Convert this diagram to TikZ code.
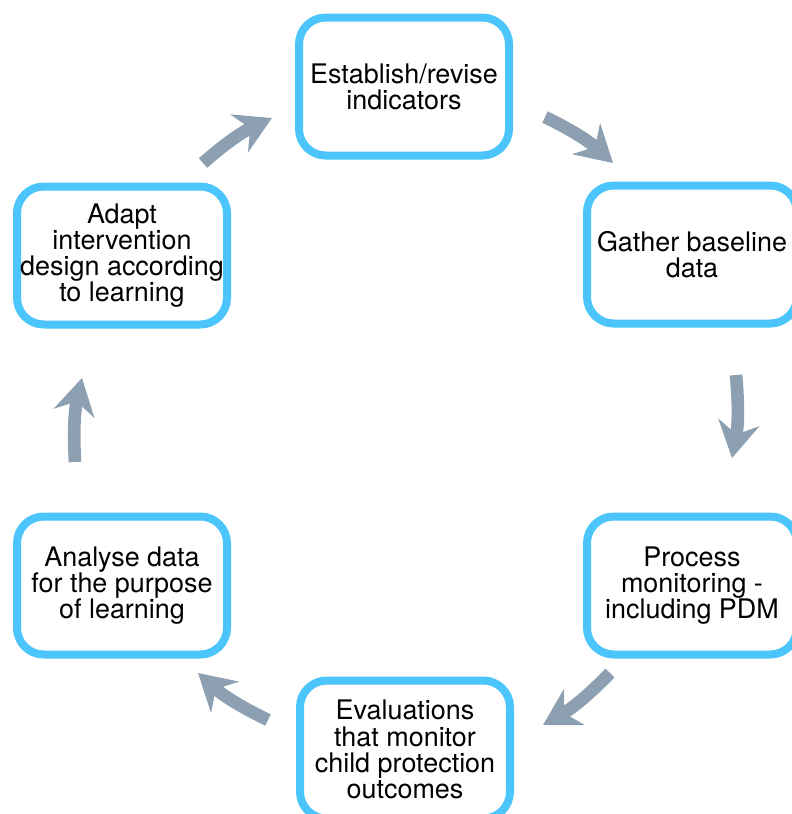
\documentclass[tikz,border=0pt]{standalone}
\usepackage{fontspec}
\setmainfont{TeX Gyre Heros}
\usepackage{tikz}
\usetikzlibrary{arrows.meta, positioning}
\definecolor{cycleblue}{RGB}{76,196,252}
\definecolor{arrowgrey}{RGB}{141,160,178}
\tikzset{
  stage/.style={rectangle, draw=cycleblue, fill=white, line width=6pt,
    minimum width=157.5pt, minimum height=103.5pt, align=center,
    rounded corners=20pt, font=\fontsize{20.2}{19.6}\selectfont, inner sep=2pt},
  cyc/.style={-{Stealth[length=27pt, width=31pt, inset=9pt]}, line width=9.5pt,
    arrowgrey, bend left=8},
}

\begin{document}
\begin{tikzpicture}[x=0.75pt, y=-0.75pt]
  \useasboundingbox (0,0) rectangle (792,814);
  \clip (0,0) rectangle (792,814);

  \node[stage] (estab) at (404,86.5) {Establish/revise\\indicators};
  \node[stage, below right=16.5pt and 52.5pt of estab] (gather) {Gather baseline\\data};
  \node[stage, below=138.75pt of gather] (process) {Process\\monitoring -\\including PDM};
  \node[stage, below left=13.5pt and 51.75pt of process] (eval) {Evaluations\\that monitor\\child protection\\outcomes};
  \node[stage, above left=13.5pt and 48.75pt of eval] (analyse) {Analyse data\\for the purpose\\of learning};
  \node[stage, above=138pt of analyse] (adapt) {Adapt\\intervention\\design according\\to learning};

  % arrow ends between the stages
  \coordinate (adapt-out) at (203,163);
  \coordinate (estab-in) at (272,118);
  \coordinate (estab-out) at (545,117);
  \coordinate (gather-in) at (613,163);
  \coordinate (gather-out) at (736,375);
  \coordinate (process-in) at (732,458);
  \coordinate (process-out) at (610,673);
  \coordinate (eval-in) at (543,725);
  \coordinate (eval-out) at (268,720);
  \coordinate (analyse-in) at (198,673);
  \coordinate (analyse-out) at (75,462);
  \coordinate (adapt-in) at (82,378);

  \draw[cyc] (adapt-out) to (estab-in);
  \draw[cyc] (estab-out) to (gather-in);
  \draw[cyc] (gather-out) to (process-in);
  \draw[cyc] (process-out) to (eval-in);
  \draw[cyc] (eval-out) to (analyse-in);
  \draw[cyc] (analyse-out) to (adapt-in);
\end{tikzpicture}
\end{document}
